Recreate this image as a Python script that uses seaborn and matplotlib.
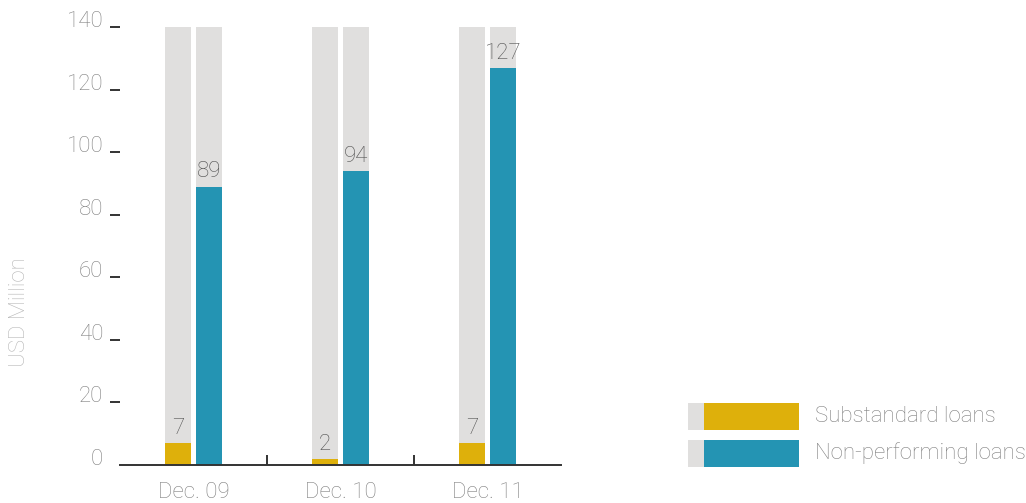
import matplotlib
matplotlib.use("Agg")
import matplotlib.pyplot as plt
import seaborn as sns
import pandas as pd
from matplotlib.patches import Rectangle

categories = ["Dec. 09", "Dec. 10", "Dec. 11"]
series_names = ["Substandard loans", "Non-performing loans"]
substandard = [7, 2, 7]
non_performing = [89, 94, 127]
y_max = 140
y_ticks = [0, 20, 40, 60, 80, 100, 120, 140]

sns.set_theme(style="white")
plt.rcParams['font.family'] = ['Roboto', 'DejaVu Sans']
W = 'light'

colors = ["#deb00b", "#2494b3"]
bg = "#e0dfde"
tick_col = "#808080"

df = pd.DataFrame({
    "cat": categories * 2,
    "series": [series_names[0]] * 3 + [series_names[1]] * 3,
    "value": substandard + non_performing,
})
df_bg = df.copy()
df_bg["value"] = y_max

fig = plt.figure(figsize=(10.26, 5.03), dpi=100)
ax = fig.add_axes([120/1026, 1-465/503, 441/1026, 438/503])

sns.barplot(data=df_bg, x="cat", y="value", hue="series", order=categories,
            hue_order=series_names, palette=[bg, bg], width=0.42, gap=0.13,
            ax=ax, legend=False, saturation=1, linewidth=0)
sns.barplot(data=df, x="cat", y="value", hue="series", order=categories,
            hue_order=series_names, palette=colors, width=0.42, gap=0.13,
            ax=ax, legend=False, saturation=1, linewidth=0)

# value labels
for cont in ax.containers[2:]:
    ax.bar_label(cont, padding=3, fontsize=16, color="#505050", fontweight=W)

ax.set_xlim(-0.5, 2.5)
ax.set_ylim(0, y_max)
ax.set_yticks(y_ticks)
ax.set_yticklabels([str(t) for t in y_ticks])
for s in ["top", "right", "left"]:
    ax.spines[s].set_visible(False)
ax.spines["bottom"].set_color("#333333")
ax.spines["bottom"].set_linewidth(1.4)

ax.tick_params(axis="y", which="major", left=True, length=7, width=1.4,
               color="#333333", pad=5, labelsize=16, labelcolor=tick_col)
ax.tick_params(axis="x", which="major", bottom=False, length=0, pad=12,
               labelsize=16, labelcolor=tick_col)
ax.set_xticks([0.5, 1.5], minor=True)
ax.tick_params(axis="x", which="minor", bottom=True, direction="in", length=7,
               width=1.4, color="#333333")
for lab in ax.get_yticklabels() + ax.get_xticklabels():
    lab.set_fontweight(W)
for lab in ax.get_yticklabels():
    lab.set_verticalalignment("baseline")
ax.yaxis.get_major_ticks()[0].tick1line.set_visible(False)

ax.set_xlabel("")
ax.set_ylabel("USD Million", fontsize=16, color="#b8b8b8", fontweight=W)
ax.yaxis.set_label_coords(-0.205, 0.349)

# legend
def px(x, y):
    return x/1026, 1 - y/503
for i, (name, c) in enumerate(zip(series_names, colors)):
    top = 403 + i * 37
    x0, y0 = px(688, top + 27)
    fig.add_artist(Rectangle((x0, y0), 16/1026, 27/503, transform=fig.transFigure,
                             facecolor=bg, edgecolor="none"))
    x1, _ = px(704, top + 27)
    fig.add_artist(Rectangle((x1, y0), 95/1026, 27/503, transform=fig.transFigure,
                             facecolor=c, edgecolor="none"))
    tx, ty = px(815, top + 13.5)
    fig.text(tx, ty, name, fontsize=16, color=tick_col, va="center", ha="left",
             fontweight=W)

fig.savefig("out.png", dpi=100)
